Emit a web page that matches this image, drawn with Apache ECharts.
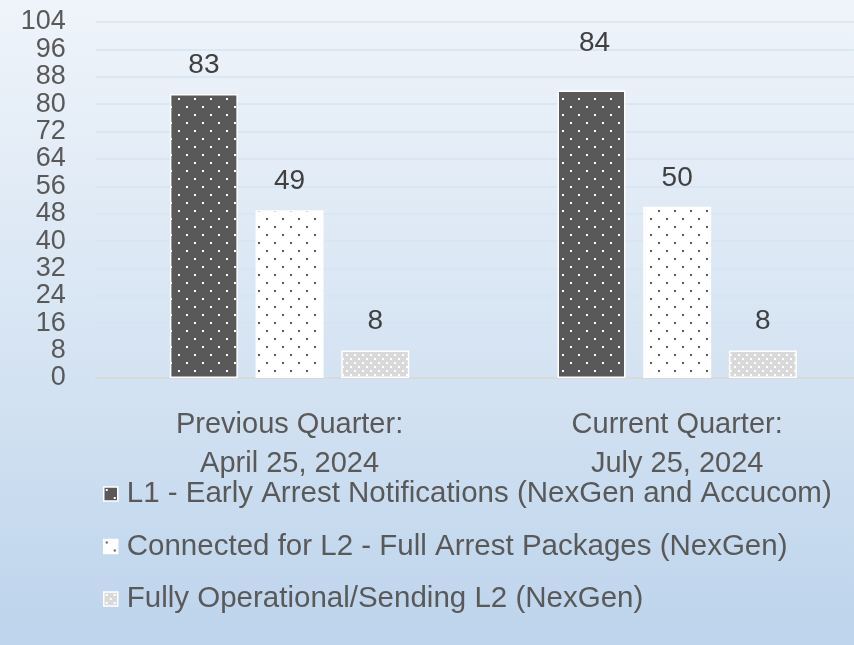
<!DOCTYPE html>
<html>
<head>
<meta charset="utf-8">
<script src="https://cdn.jsdelivr.net/npm/echarts@6/dist/echarts.min.js"></script>
<style>
html,body{margin:0;padding:0;background:#fff}
#chart{width:854px;height:645px}
</style>
</head>
<body>
<div id="chart"></div>
<script>
// ---- data ----
const categories = ['Previous Quarter:\nApril 25, 2024', 'Current Quarter:\nJuly 25, 2024'];
const seriesNames = [
  'L1 - Early Arrest Notifications (NexGen and Accucom)',
  'Connected for L2 - Full Arrest Packages (NexGen)',
  'Fully Operational/Sending L2 (NexGen)'
];
const l1Values = [83, 84];
const l2ConnectedValues = [49, 50];
const l2OperationalValues = [8, 8];
const yMin = 0, yMax = 104, yStep = 8;

// ---- styles ----
const FONT = "'Liberation Sans', Arial, sans-serif";
const TEXT = '#595959';
// manual label nudges seen in the original (series index -> per-category offset)
const labelNudges = [[[0, 0], [3, -18]], [[0, 0], [0, 0]], [[0, 0], [0, 0]]];

function makePattern(size, bg, dotColor, dots, dotSize) {
  const c = document.createElement('canvas');
  c.width = size; c.height = size;
  const ctx = c.getContext('2d');
  ctx.fillStyle = bg; ctx.fillRect(0, 0, size, size);
  ctx.fillStyle = dotColor;
  dots.forEach(d => ctx.fillRect(d[0], d[1], dotSize, dotSize));
  return { image: c, repeat: 'repeat' };
}
const darkPattern = makePattern(16, '#595959', '#ffffff', [[2, 2], [10, 10]], 2);
const whitePattern = makePattern(16, '#ffffff', '#595959', [[2, 2], [10, 10]], 2);
const grayPattern = makePattern(8, '#d9d9d9', '#ffffff', [[2, 2], [6, 6]], 2);

const patterns = [darkPattern, whitePattern, grayPattern];
const valueSets = [l1Values, l2ConnectedValues, l2OperationalValues];

const chart = echarts.init(document.getElementById('chart'), null, { renderer: 'canvas' });

const series = seriesNames.map((name, i) => ({
  name,
  type: 'bar',
  data: valueSets[i].map((v, j) => ({ value: v, label: { offset: labelNudges[i][j] } })),
  barWidth: 68,
  barGap: '26%',
  itemStyle: { color: patterns[i], borderColor: '#ffffff', borderWidth: 1.5 },
  label: {
    show: true, position: 'top', distance: 15,
    color: '#404040', fontFamily: FONT, fontSize: 28
  },
  emphasis: { disabled: true }
}));

chart.setOption({
  animation: false,
  backgroundColor: new echarts.graphic.LinearGradient(0, 0, 0, 1, [
    { offset: 0, color: '#eff4fa' },
    { offset: 0.6, color: '#d3e2f2' },
    { offset: 1, color: '#bdd4ec' }
  ]),
  textStyle: { fontFamily: FONT },
  grid: { left: 95.75, right: -17, top: 22, bottom: 267, containLabel: false, outerBoundsMode: 'none' },
  xAxis: {
    type: 'category',
    data: categories,
    axisTick: { show: false },
    axisLine: { lineStyle: { color: '#d9d9d9', width: 2 } },
    axisLabel: {
      color: TEXT, fontFamily: FONT, fontSize: 29, lineHeight: 39, margin: 27
    }
  },
  yAxis: {
    type: 'value',
    min: yMin, max: yMax, interval: yStep,
    axisLine: { show: false },
    axisTick: { show: false },
    splitLine: { lineStyle: { color: '#d6e3f1', width: 1.5 } },
    axisLabel: {
      color: TEXT, fontFamily: FONT, fontSize: 27, lineHeight: 20, margin: 30,
      showMinLabel: true, showMaxLabel: true, hideOverlap: false
    }
  },
  legend: {
    orient: 'vertical',
    left: 98, top: 474,
    itemWidth: 14, itemHeight: 14,
    itemGap: 22.5,
    icon: 'rect',
    textStyle: { color: TEXT, fontFamily: FONT, fontSize: 29.5, lineHeight: 30, padding: [0, 0, 0, 4] },
    itemStyle: { borderColor: '#ffffff', borderWidth: 1.5 },
    selectedMode: false
  },
  series
});
</script>
</body>
</html>
